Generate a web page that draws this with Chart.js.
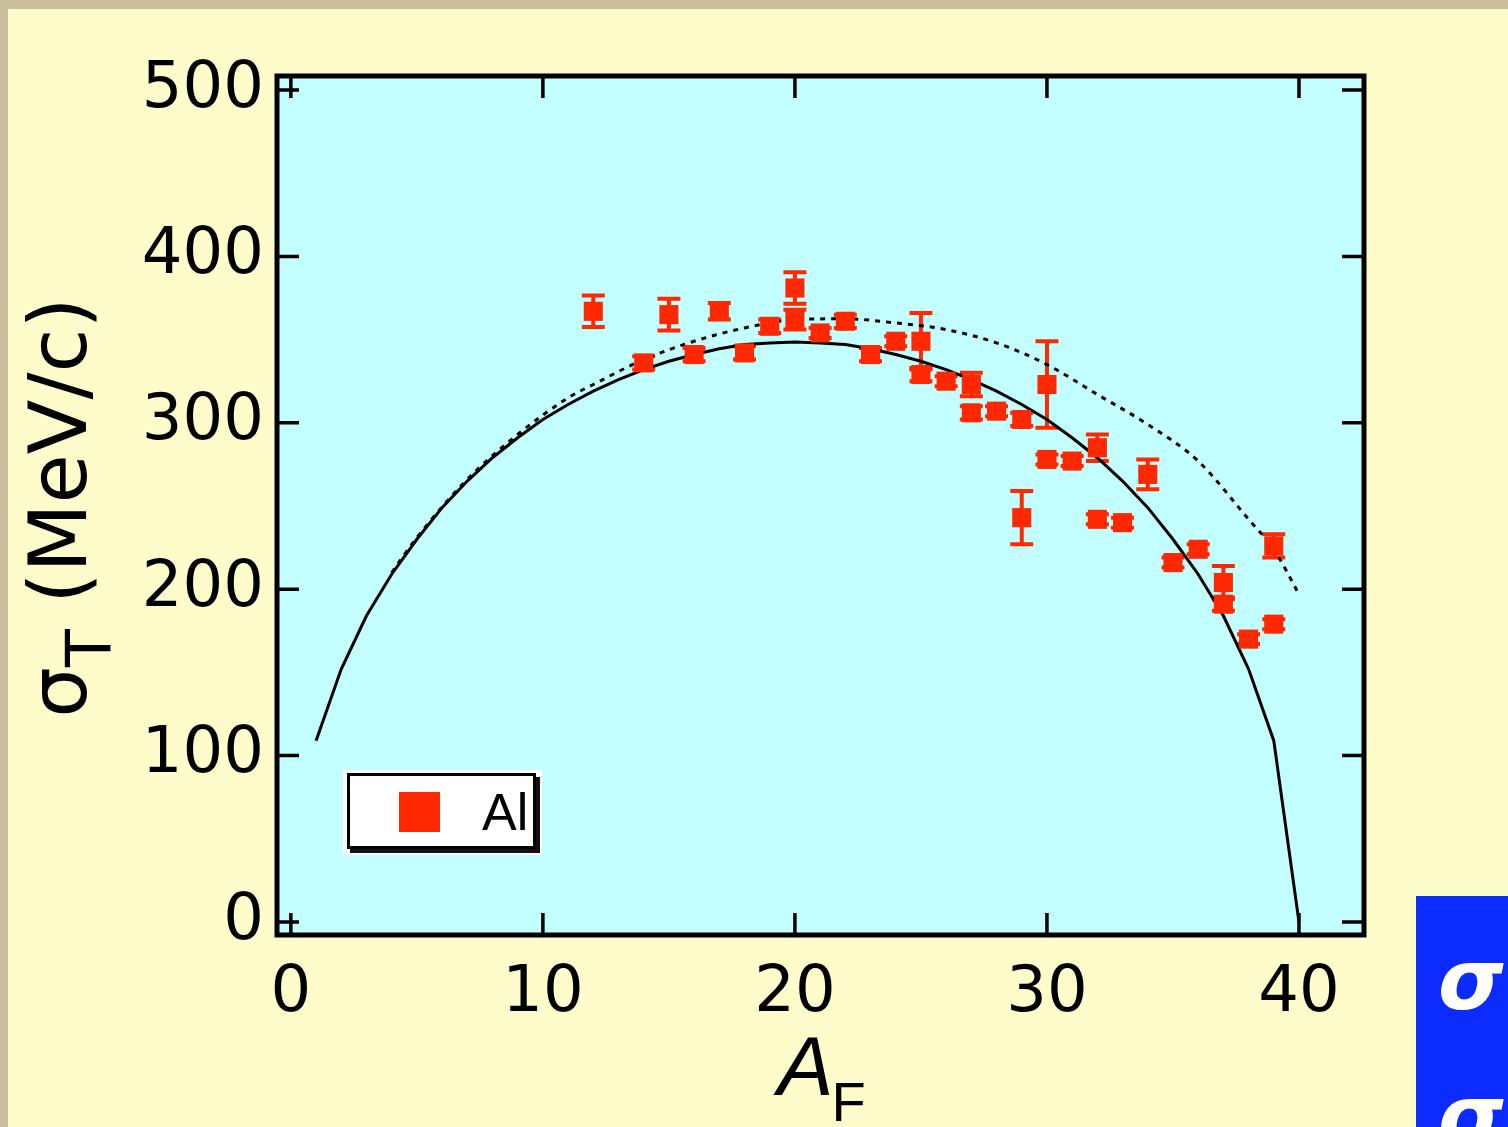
<!DOCTYPE html>
<html>
<head>
<meta charset="utf-8">
<title>Momentum width vs fragment mass</title>
<script src="https://cdn.jsdelivr.net/npm/chart.js@4.4.1/dist/chart.umd.min.js"></script>
<style>
  html, body { margin: 0; padding: 0; }
  body { width: 1508px; height: 1127px; background: #c9bd9b; position: relative; overflow: hidden; }
  #panel { position: absolute; left: 8px; top: 9px; right: 0; bottom: 0; background: #fffccc; }
  #wrap { position: absolute; left: 0; top: 0; width: 1508px; height: 1127px; }
  #side {
    position: absolute; left: 1416px; top: 896px; width: 92px; height: 231px;
    background: #0c2cff; color: #fff; overflow: hidden; white-space: pre;
    font: italic bold 84px "DejaVu Sans"; line-height: 136px;
    padding-left: 22px; padding-top: 16px; box-sizing: border-box;
  }
</style>
</head>
<body>
<div id="panel"></div>
<div id="wrap"><canvas id="chartSigma" width="1508" height="1127"></canvas></div>
<div id="side">σ
σ</div>
<script>
// axis ticks
const xTicks = [0, 10, 20, 30, 40];
const yTicks = [0, 100, 200, 300, 400, 500];

// measured widths for Al target: fragment mass, sigma_T (MeV/c), error
const alA     = [12, 14, 15, 16, 17, 18, 19, 20, 20, 21, 22, 23, 24, 25, 25, 26, 27, 27, 28, 29, 29, 30, 30, 31, 32, 32, 33, 34, 35, 36, 37, 37, 38, 39, 39];
const alSigma = [367, 336, 365, 341, 367, 342, 358, 381, 362, 354, 361, 341, 349, 349, 329, 325, 323, 306, 307, 302, 243, 323, 278, 277, 285, 242, 240, 269, 216, 224, 204, 191, 170, 226, 179];
const alErr   = [9.5, 4, 9.5, 4, 5, 4, 4, 9.5, 6, 3, 4, 4, 3, 17, 4, 3, 7, 4, 3, 4, 16, 26, 3, 3, 8, 3, 3, 9, 3, 3, 10, 4, 3, 7, 3];

// solid curve
const solidA     = [1, 2, 3, 4, 5, 6, 7, 8, 9, 10, 11, 12, 13, 14, 15, 16, 17, 18, 19, 20,
                    21, 22, 23, 24, 25, 26, 27, 28, 29, 30, 31, 32, 33, 34, 35, 36, 37, 38, 39, 40];
const solidSigma = [109, 152, 184, 209, 230, 249, 265, 279, 291, 302, 311, 319, 326, 332, 337, 341, 344.5, 347, 348, 348.5,
                    348, 347, 344.5, 341, 337, 332, 326, 319, 311, 302, 291, 279, 265, 249, 230, 209, 184, 152, 109, 0];

// dotted curve
const dottedA     = [4, 5, 7, 9, 11, 12, 14, 16, 18, 20, 22, 24, 26, 28, 30, 32, 34, 36, 38, 39, 40];
const dottedSigma = [210, 231, 266, 293, 315, 323, 338, 349, 357, 362, 362.5, 360, 356, 348, 335, 317, 299, 277, 242, 224, 197];

const RED = '#ff2800';

function pts(xs, ys) {
    return xs.map((x, i) => ({ x: x, y: ys[i] }));
}

// light cyan plot area
const plotBg = {
    id: 'plotBg',
    beforeDraw(chart) {
        const { ctx, chartArea: a } = chart;
        ctx.save();
        ctx.fillStyle = '#c4ffff';
        ctx.fillRect(a.left, a.top, a.right - a.left, a.bottom - a.top);
        ctx.restore();
    }
};

// vertical error bars with caps
const errorBars = {
    id: 'errorBars',
    beforeDatasetsDraw(chart) {
        const ctx = chart.ctx, xs = chart.scales.x, ys = chart.scales.y;
        ctx.save();
        ctx.strokeStyle = RED;
        ctx.lineWidth = 4;
        alA.forEach((a, i) => {
            const px = xs.getPixelForValue(a);
            const top = ys.getPixelForValue(alSigma[i] + alErr[i]);
            const bot = ys.getPixelForValue(alSigma[i] - alErr[i]);
            ctx.beginPath();
            ctx.moveTo(px, top); ctx.lineTo(px, bot);
            ctx.moveTo(px - 11.5, top); ctx.lineTo(px + 11.5, top);
            ctx.moveTo(px - 11.5, bot); ctx.lineTo(px + 11.5, bot);
            ctx.stroke();
        });
        ctx.restore();
    }
};

// frame, inward ticks on all four sides, legend and axis titles
const frame = {
    id: 'frame',
    afterDraw(chart) {
        const { ctx, chartArea: a } = chart;
        const xs = chart.scales.x, ys = chart.scales.y;
        const tl = 22;
        ctx.save();
        ctx.strokeStyle = '#000';
        ctx.lineWidth = 3.5;
        ctx.beginPath();
        xs.ticks.forEach(t => {
            const px = xs.getPixelForValue(t.value);
            ctx.moveTo(px, a.bottom); ctx.lineTo(px, a.bottom - tl);
            ctx.moveTo(px, a.top); ctx.lineTo(px, a.top + tl);
        });
        ys.ticks.forEach(t => {
            const py = ys.getPixelForValue(t.value);
            ctx.moveTo(a.left, py); ctx.lineTo(a.left + tl, py);
            ctx.moveTo(a.right, py); ctx.lineTo(a.right - tl, py);
        });
        ctx.stroke();
        ctx.lineWidth = 5;
        ctx.strokeRect(a.left, a.top, a.right - a.left, a.bottom - a.top);

        // legend box
        const bx = a.left + 66, by = a.top + 694;
        ctx.fillStyle = '#fff';
        ctx.fillRect(bx, by, 199, 85);
        ctx.fillStyle = '#111';
        ctx.fillRect(bx + 7, by + 7, 190, 76);
        ctx.fillStyle = '#fff';
        ctx.fillRect(bx + 4, by + 3, 189, 76);
        ctx.lineWidth = 3;
        ctx.strokeStyle = '#000';
        ctx.strokeRect(bx + 5.5, by + 4.5, 186, 73);
        ctx.fillStyle = RED;
        ctx.fillRect(bx + 56, by + 22, 41, 40);
        ctx.fillStyle = '#000';
        ctx.font = '52px "Liberation Sans"';
        ctx.textBaseline = 'alphabetic';
        ctx.textAlign = 'left';
        ctx.fillText(chart.data.datasets[0].label, bx + 139, by + 60);

        // x title: A with subscript F
        const cx = (a.left + a.right) / 2;
        ctx.font = 'italic 84px "Liberation Sans"';
        const wA = ctx.measureText('A').width;
        ctx.font = '56px "Liberation Sans"';
        const wF = ctx.measureText('F').width;
        let x0 = cx - (wA + wF) / 2;
        ctx.font = 'italic 84px "Liberation Sans"';
        ctx.fillText('A', x0 + 2, 1095);
        ctx.font = '56px "Liberation Sans"';
        ctx.fillText('F', x0 + wA, 1121);

        // y title: sigma with subscript T, rotated
        const cy = (a.top + a.bottom) / 2 + 2;
        ctx.translate(86, cy);
        ctx.rotate(-Math.PI / 2);
        const big = '80px "DejaVu Sans"', small = '62px "DejaVu Sans"';
        ctx.font = big;
        const wS = ctx.measureText('σ').width;
        const wU = ctx.measureText(' (MeV/c)').width;
        ctx.font = small;
        const wT = ctx.measureText('T').width;
        let s0 = -(wS + wT + wU) / 2;
        ctx.font = big;
        ctx.fillText('σ', s0, 0);
        ctx.font = small;
        ctx.fillText('T', s0 + wS, 24);
        ctx.font = big;
        ctx.fillText(' (MeV/c)', s0 + wS + wT, 0);
        ctx.restore();
    }
};

new Chart(document.getElementById('chartSigma'), {
    type: 'scatter',
    data: {
        datasets: [
            {
                label: 'Al',
                data: pts(alA, alSigma),
                pointStyle: 'rect',
                pointRadius: 13.5,
                pointBorderWidth: 0,
                backgroundColor: RED,
                borderColor: RED
            },
            {
                label: 'solid',
                type: 'line',
                data: pts(solidA, solidSigma),
                borderColor: '#000',
                borderWidth: 3,
                pointRadius: 0,
                tension: 0,
                fill: false
            },
            {
                label: 'dotted',
                type: 'line',
                data: pts(dottedA, dottedSigma),
                borderColor: '#000',
                borderWidth: 3,
                borderDash: [5, 6],
                pointRadius: 0,
                cubicInterpolationMode: 'monotone',
                fill: false
            }
        ]
    },
    options: {
        responsive: false,
        animation: false,
        layout: { padding: { left: 0, top: 76, right: 144, bottom: 0 } },
        plugins: {
            legend: { display: false },
            tooltip: { enabled: false }
        },
        scales: {
            x: {
                type: 'linear',
                min: -0.55,
                max: 42.58,
                afterBuildTicks: s => { s.ticks = xTicks.map(v => ({ value: v })); },
                afterFit: s => { s.height = 192; },
                grid: { display: false, drawTicks: false },
                border: { display: false },
                ticks: {
                    color: '#000',
                    font: { family: 'DejaVu Sans', size: 64 },
                    padding: 21,
                    maxRotation: 0,
                    autoSkip: false
                }
            },
            y: {
                type: 'linear',
                min: -7.8,
                max: 508.4,
                afterBuildTicks: s => { s.ticks = yTicks.map(v => ({ value: v })); },
                afterFit: s => { s.width = 277; },
                grid: { display: false, drawTicks: false },
                border: { display: false },
                ticks: {
                    color: '#000',
                    font: { family: 'DejaVu Sans', size: 64 },
                    padding: 13,
                    autoSkip: false
                }
            }
        }
    },
    plugins: [plotBg, errorBars, frame]
});
</script>
</body>
</html>
